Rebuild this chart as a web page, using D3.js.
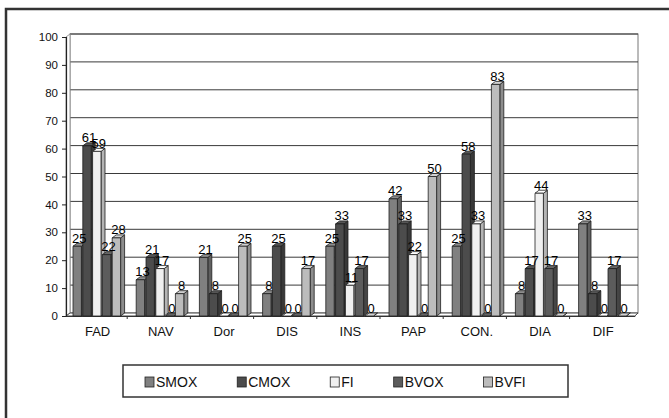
<!DOCTYPE html>
<html>
<head>
<meta charset="utf-8">
<script src="https://cdn.jsdelivr.net/npm/d3@7/dist/d3.min.js"></script>
<style>
  html, body { margin: 0; padding: 0; background: #fff; }
  svg { display: block; font-family: "Liberation Sans", Arial, sans-serif; }
</style>
</head>
<body>
<svg id="chart" width="669" height="418"></svg>
<script>
// Categories and series
const categories = ["FAD", "NAV", "Dor", "DIS", "INS", "PAP", "CON.", "DIA", "DIF"];
const seriesNames = ["SMOX", "CMOX", "FI", "BVOX", "BVFI"];
const smox = [25, 13, 21, 8, 25, 42, 25, 8, 33];
const cmox = [61, 21, 8, 25, 33, 33, 58, 17, 8];
const fi   = [59, 17, 0, 0, 11, 22, 33, 44, 0];
const bvox = [22, 0, 0, 0, 17, 0, 0, 17, 17];
const bvfi = [28, 8, 25, 17, 0, 50, 83, 0, 0];
const yTicks = [0, 10, 20, 30, 40, 50, 60, 70, 80, 90, 100];
const seriesColors = ["#808080", "#4c4c4c", "#f0f0f0", "#5c5c5c", "#bcbcbc"];

const seriesValues = [smox, cmox, fi, bvox, bvfi];

const svg = d3.select("#chart");

// Outer chart frame
svg.append("rect")
  .attr("x", 6).attr("y", 9).attr("width", 720).attr("height", 460)
  .attr("fill", "none").attr("stroke", "#333").attr("stroke-width", 2.5);

// Projection depth for the 3D look
const DX = 4, DY = -3;

const x = d3.scaleBand().domain(categories).range([66, 634.8]).paddingInner(0).paddingOuter(0);
const xs = d3.scaleBand().domain(seriesNames).range([7, 56]).padding(0);
const y = d3.scaleLinear().domain([0, 100]).range([316, 37]);

const plotRight = 638;

// Back wall
svg.append("rect")
  .attr("x", 66 + DX).attr("y", y(100) + DY)
  .attr("width", plotRight - (66 + DX)).attr("height", y(0) - y(100))
  .attr("fill", "#fff").attr("stroke", "#777").attr("stroke-width", 1);

// Gridlines on the back wall
svg.append("g").selectAll("line")
  .data(yTicks.filter(d => d > 0))
  .join("line")
  .attr("x1", 66 + DX).attr("x2", plotRight)
  .attr("y1", d => y(d) + DY).attr("y2", d => y(d) + DY)
  .attr("stroke", "#3a3a3a").attr("stroke-width", 1);

// Left wall
svg.append("path")
  .attr("d", `M66,${y(0)} L66,${y(100)} L${66 + DX},${y(100) + DY} L${66 + DX},${y(0) + DY} Z`)
  .attr("fill", "#fff").attr("stroke", "#999").attr("stroke-width", 1);

// Floor
svg.append("path")
  .attr("d", `M66,${y(0)} L634.8,${y(0)} L${plotRight},${y(0) + DY} L${66 + DX},${y(0) + DY} Z`)
  .attr("fill", "#fff").attr("stroke", "#444").attr("stroke-width", 1);

// Value axis
const yAxis = d3.axisLeft(y).tickValues(yTicks).tickSize(4).tickPadding(4).tickFormat(d3.format("d"));
const gy = svg.append("g").attr("transform", "translate(66,0)").call(yAxis);
gy.select(".domain").attr("stroke", "#222").attr("stroke-width", 1.2);
gy.selectAll(".tick line").attr("stroke", "#222");
gy.selectAll(".tick text")
  .attr("font-size", 11.5).attr("fill", "#111")
  .attr("font-family", "Liberation Sans, Arial, sans-serif");

// Category axis
const xAxis = d3.axisBottom(x).tickSize(0).tickPadding(11);
const gx = svg.append("g").attr("transform", `translate(0,${y(0)})`).call(xAxis);
gx.select(".domain").attr("stroke", "#333");
gx.selectAll(".tick text")
  .attr("font-size", 13).attr("fill", "#111")
  .attr("font-family", "Liberation Sans, Arial, sans-serif");
// Tick marks between categories
svg.append("g").selectAll("line")
  .data(categories.slice(1))
  .join("line")
  .attr("x1", d => x(d) - 2).attr("x2", d => x(d) - 2)
  .attr("y1", y(0)).attr("y2", y(0) + 3)
  .attr("stroke", "#333");

// Bars (drawn left to right so each bar covers its left neighbour's side)
const bars = [];
categories.forEach((c, ci) => {
  seriesNames.forEach((s, si) => {
    bars.push({ cat: c, series: s, si, value: seriesValues[si][ci] });
  });
});

const barW = xs.bandwidth() - DX * 0.35;
const gBars = svg.append("g");
bars.forEach(b => {
  const x0 = x(b.cat) + xs(b.series);
  const x1 = x0 + barW;
  const yt = y(b.value), yb = y(0);
  const base = d3.color(seriesColors[b.si]);
  const g = gBars.append("g").attr("stroke", "#1e1e1e").attr("stroke-width", 0.8).attr("stroke-linejoin", "round");
  // right side face
  g.append("path")
    .attr("d", `M${x1},${yb} L${x1 + DX},${yb + DY} L${x1 + DX},${yt + DY} L${x1},${yt} Z`)
    .attr("fill", base.darker(0.8));
  // top face
  g.append("path")
    .attr("d", `M${x0},${yt} L${x1},${yt} L${x1 + DX},${yt + DY} L${x0 + DX},${yt + DY} Z`)
    .attr("fill", base.brighter(0.3));
  // front face
  g.append("rect")
    .attr("x", x0).attr("y", yt).attr("width", barW).attr("height", Math.max(0, yb - yt))
    .attr("fill", base);
});

// Value labels
svg.append("g").selectAll("text")
  .data(bars)
  .join("text")
  .attr("x", d => x(d.cat) + xs(d.series) + barW / 2 + DX / 2)
  .attr("y", d => y(d.value) + DY - 0.5)
  .attr("text-anchor", "middle")
  .attr("font-size", 13)
  .attr("fill", "#000")
  .text(d => d.value);

// Legend
const legend = svg.append("g");
legend.append("rect")
  .attr("x", 123).attr("y", 365).attr("width", 445).attr("height", 32)
  .attr("fill", "#fff").attr("stroke", "#333").attr("stroke-width", 1.5);
let lx = 145;
seriesNames.forEach((s, i) => {
  legend.append("rect")
    .attr("x", lx).attr("y", 377).attr("width", 9).attr("height", 10)
    .attr("fill", seriesColors[i]).attr("stroke", "#222").attr("stroke-width", 0.8);
  const t = legend.append("text")
    .attr("x", lx + 11).attr("y", 387)
    .attr("font-size", 14).attr("fill", "#111")
    .text(s);
  lx += 11 + t.node().getComputedTextLength() + 40;
});
</script>
</body>
</html>
